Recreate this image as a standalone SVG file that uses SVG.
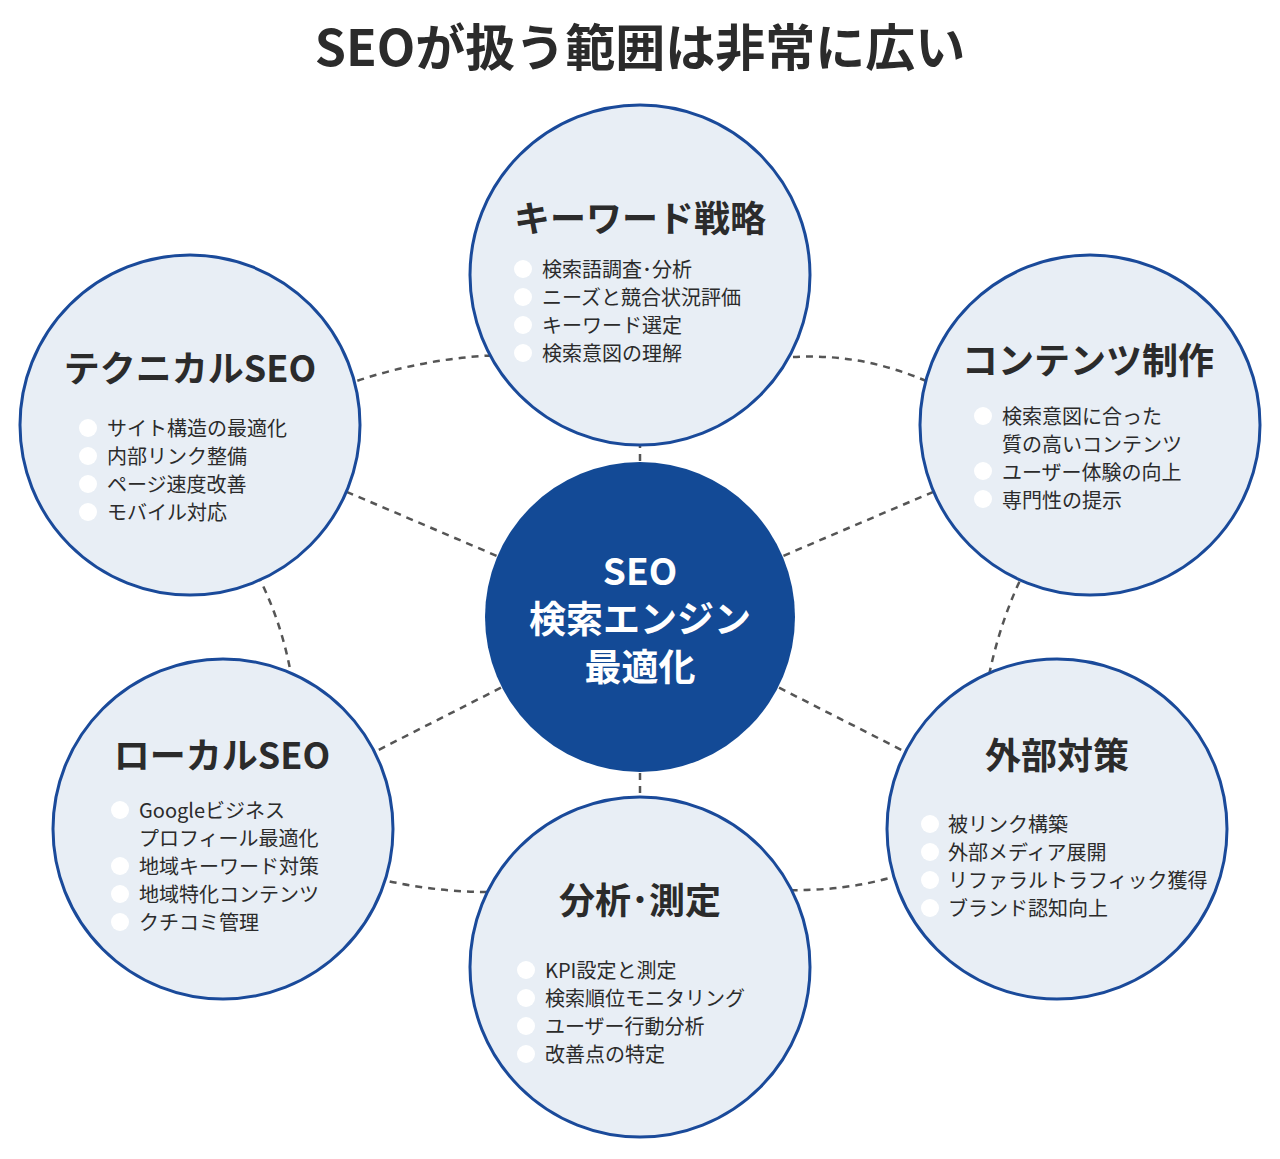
<svg xmlns="http://www.w3.org/2000/svg" width="1280" height="1159" viewBox="0 0 1280 1159">
<style>
text{font-family:"Noto Sans CJK JP","Noto Sans",sans-serif;fill:#2b2b2b;dominant-baseline:central}
.t{font-size:36px;font-weight:700;text-anchor:middle}
.i{font-size:20px}
.c{font-size:37px;font-weight:700;fill:#fff;text-anchor:middle}
.o{fill:#e8eef5;stroke:#1a4a9a;stroke-width:3}
.b{fill:#fff}
.d{fill:none;stroke:#555;stroke-width:2.5;stroke-dasharray:7 6}
</style>
<rect width="1280" height="1159" fill="#fff"/>
<text x="640" y="44" style="font-size:50px;font-weight:700;text-anchor:middle">SEOが扱う範囲は非常に広い</text>
<g id="connectors">
<line class="d" x1="640" y1="617" x2="640" y2="275"/>
<line class="d" x1="640" y1="617" x2="1090" y2="425"/>
<line class="d" x1="640" y1="617" x2="190" y2="425"/>
<line class="d" x1="640" y1="617" x2="223" y2="829"/>
<line class="d" x1="640" y1="617" x2="1057" y2="829"/>
<line class="d" x1="640" y1="617" x2="640" y2="967"/>
<path class="d" d="M780 358 Q860 350 935 385"/>
<path class="d" d="M1025 570 Q1000 620 988 680"/>
<path class="d" d="M900 875 Q845 892 780 890"/>
<path class="d" d="M500 892 Q435 893 375 878"/>
<path class="d" d="M292 680 Q282 620 255 570"/>
<path class="d" d="M345 385 Q420 358 500 355"/>
</g>
<g id="center"><circle cx="640" cy="617" r="155" fill="#134a96"/>
<text class="c" x="640" y="569">SEO</text><text class="c" x="640" y="617">検索エンジン</text><text class="c" x="640" y="665">最適化</text></g>
<g id="keyword"><circle class="o" cx="640" cy="275" r="170"/>
<text class="t" x="640" y="216">キーワード戦略</text>
<circle class="b" cx="523" cy="269" r="9"/><circle class="b" cx="523" cy="297" r="9"/><circle class="b" cx="523" cy="325" r="9"/><circle class="b" cx="523" cy="353" r="9"/>
<text class="i" x="542" y="268">検索語調査･分析</text><text class="i" x="542" y="296">ニーズと競合状況評価</text><text class="i" x="542" y="324">キーワード選定</text><text class="i" x="542" y="352">検索意図の理解</text></g>
<g id="content"><circle class="o" cx="1090" cy="425" r="170"/>
<text class="t" x="1088" y="358">コンテンツ制作</text>
<circle class="b" cx="983" cy="416" r="9"/><circle class="b" cx="983" cy="471" r="9"/><circle class="b" cx="983" cy="499" r="9"/>
<text class="i" x="1002" y="415">検索意図に合った</text><text class="i" x="1002" y="443">質の高いコンテンツ</text><text class="i" x="1002" y="471">ユーザー体験の向上</text><text class="i" x="1002" y="499">専門性の提示</text></g>
<g id="technical"><circle class="o" cx="190" cy="425" r="170"/>
<text class="t" x="190" y="366">テクニカルSEO</text>
<circle class="b" cx="88" cy="428" r="9"/><circle class="b" cx="88" cy="456" r="9"/><circle class="b" cx="88" cy="484" r="9"/><circle class="b" cx="88" cy="512" r="9"/>
<text class="i" x="107" y="427">サイト構造の最適化</text><text class="i" x="107" y="455">内部リンク整備</text><text class="i" x="107" y="483">ページ速度改善</text><text class="i" x="107" y="511">モバイル対応</text></g>
<g id="local"><circle class="o" cx="223" cy="829" r="170"/>
<text class="t" x="222" y="753">ローカルSEO</text>
<circle class="b" cx="120" cy="810" r="9"/><circle class="b" cx="120" cy="866" r="9"/><circle class="b" cx="120" cy="894" r="9"/><circle class="b" cx="120" cy="922" r="9"/>
<text class="i" x="139" y="809">Googleビジネス</text><text class="i" x="139" y="837">プロフィール最適化</text><text class="i" x="139" y="865">地域キーワード対策</text><text class="i" x="139" y="893">地域特化コンテンツ</text><text class="i" x="139" y="921">クチコミ管理</text></g>
<g id="external"><circle class="o" cx="1057" cy="829" r="170"/>
<text class="t" x="1057" y="753">外部対策</text>
<circle class="b" cx="930" cy="824" r="9"/><circle class="b" cx="930" cy="852" r="9"/><circle class="b" cx="930" cy="880" r="9"/><circle class="b" cx="930" cy="908" r="9"/>
<text class="i" x="948" y="823">被リンク構築</text><text class="i" x="948" y="851">外部メディア展開</text><text class="i" x="948" y="879">リファラルトラフィック獲得</text><text class="i" x="948" y="907">ブランド認知向上</text></g>
<g id="analysis"><circle class="o" cx="640" cy="967" r="170"/>
<text class="t" x="640" y="898">分析･測定</text>
<circle class="b" cx="526" cy="970" r="9"/><circle class="b" cx="526" cy="998" r="9"/><circle class="b" cx="526" cy="1026" r="9"/><circle class="b" cx="526" cy="1054" r="9"/>
<text class="i" x="545" y="969">KPI設定と測定</text><text class="i" x="545" y="997">検索順位モニタリング</text><text class="i" x="545" y="1025">ユーザー行動分析</text><text class="i" x="545" y="1053">改善点の特定</text></g>
</svg>
